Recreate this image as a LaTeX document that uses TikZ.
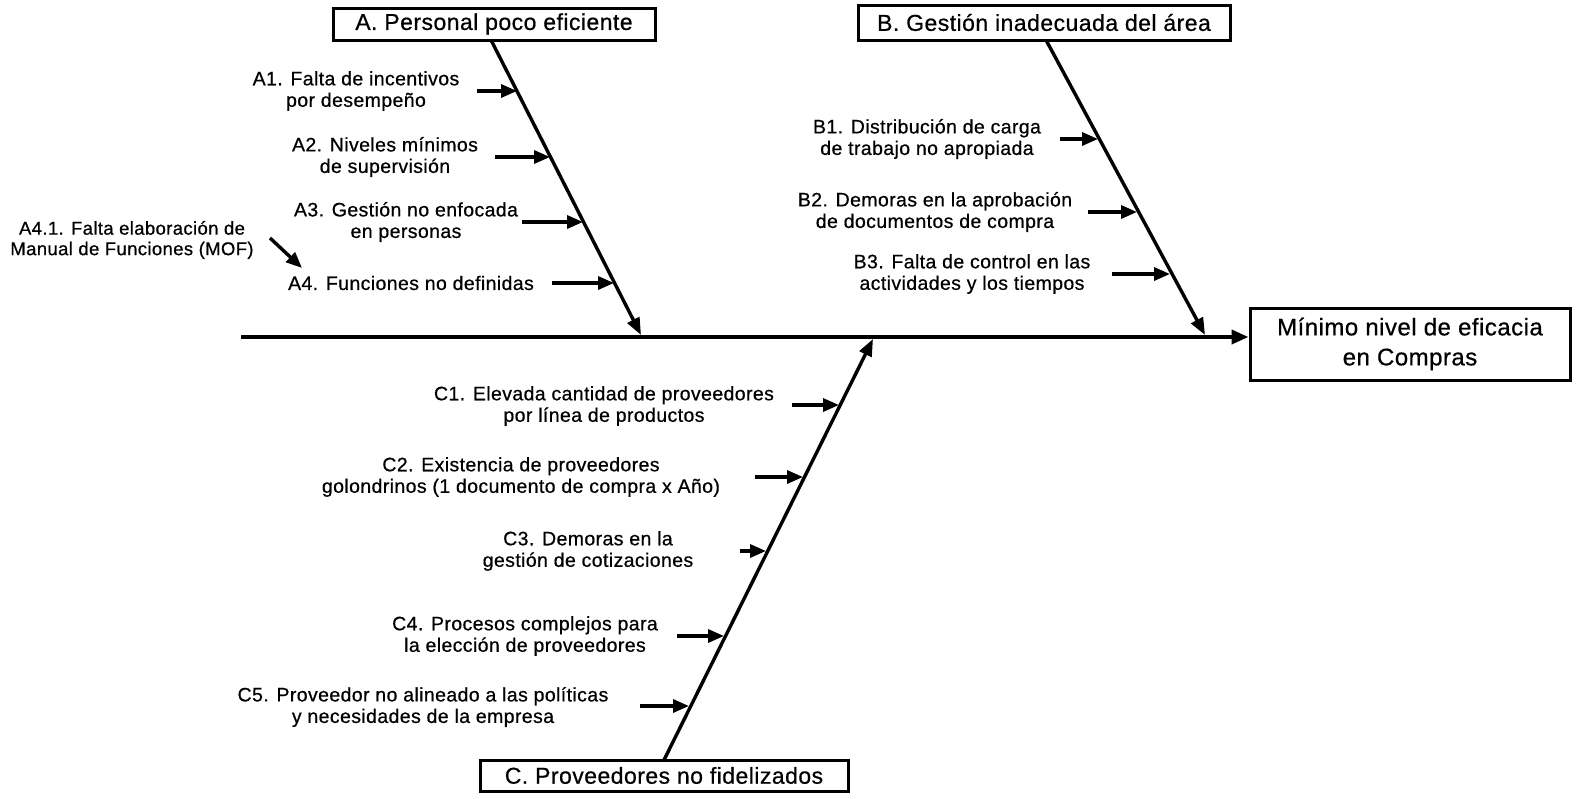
\documentclass[tikz,border=0pt]{standalone}
\usepackage{fontspec}
\setmainfont{Liberation Sans}[LetterSpace=2, FakeBold=0.6]
\usetikzlibrary{arrows.meta}
\begin{document}
\begin{tikzpicture}[x=1pt,y=-1pt,
  catbox/.style={draw, line width=3pt, inner sep=0pt, align=center,
    font=\fontsize{23}{25}\selectfont},
  effbox/.style={draw, line width=3pt, inner sep=0pt, align=center,
    minimum width=320pt, minimum height=72pt,
    font=\fontsize{24}{30}\selectfont},
  lbl/.style={inner sep=0pt, align=center, font=\fontsize{19.5}{21.5}\selectfont},
  smalllbl/.style={inner sep=0pt, align=center, font=\fontsize{18.5}{20.5}\selectfont},
  spine/.style={line width=3.8pt, -{Triangle[length=17pt,width=14pt]}},
  bone/.style={line width=3.4pt, -{Triangle[length=17pt,width=13pt]}},
  cause/.style={line width=3.4pt, -{Triangle[length=16pt,width=13pt]}}]
\useasboundingbox (0,0) rectangle (1577,798);

% category boxes and effect
\node[catbox, minimum width=322pt, minimum height=32pt] (boxA) at (494,24) {A. Personal poco eficiente};
\node[catbox, minimum width=372pt, minimum height=35pt] (boxB) at (1044,22.5) {B. Gestión inadecuada del área};
\node[catbox, minimum width=368pt, minimum height=31pt] (boxC) at (664,775.5) {C. Proveedores no fidelizados};
\node[effbox] (eff) at (1410,344) {Mínimo nivel de eficacia\\en Compras};

% main spine
\coordinate (sp0) at (241,337);
\draw[spine] (sp0) -- (sp0 -| eff.west);

% main bones
\coordinate (bA) at (491,40);
\coordinate (tA) at (641,335);
\coordinate (bB) at (1046,40);
\coordinate (tB) at (1205,335);
\coordinate (bC) at (664,760);
\coordinate (tC) at (873,339);
\draw[bone] (bA) -- (tA);
\draw[bone] (bB) -- (tB);
\draw[bone] (bC) -- (tC);

% causes of A
\node[lbl] (a1) at (356,91) {A1. Falta de incentivos\\por desempeño};
\node[lbl] (a2) at (385,157) {A2. Niveles mínimos\\de supervisión};
\node[lbl] (a3) at (406,222) {A3. Gestión no enfocada\\en personas};
\node[lbl] (a4) at (411,283) {A4. Funciones no definidas};
\node[smalllbl] (a41) at (132,240) {A4.1. Falta elaboración de\\Manual de Funciones (MOF)};
\coordinate (a1s) at (477,91);  \coordinate (a1e) at (517,91);
\coordinate (a2s) at (495,157); \coordinate (a2e) at (550,157);
\coordinate (a3s) at (522,222); \coordinate (a3e) at (583,222);
\coordinate (a4s) at (552,283); \coordinate (a4e) at (614,283);
\coordinate (a41s) at (270,238); \coordinate (a41e) at (302,268);
\draw[cause] (a1s) -- (a1e);
\draw[cause] (a2s) -- (a2e);
\draw[cause] (a3s) -- (a3e);
\draw[cause] (a4s) -- (a4e);
\draw[cause] (a41s) -- (a41e);

% causes of B
\node[lbl] (b1) at (927,139) {B1. Distribución de carga\\de trabajo no apropiada};
\node[lbl] (b2) at (935,212) {B2. Demoras en la aprobación\\de documentos de compra};
\node[lbl] (b3) at (972,274) {B3. Falta de control en las\\actividades y los tiempos};
\coordinate (b1s) at (1060,139); \coordinate (b1e) at (1098,139);
\coordinate (b2s) at (1088,212); \coordinate (b2e) at (1137,212);
\coordinate (b3s) at (1112,274); \coordinate (b3e) at (1170,274);
\draw[cause] (b1s) -- (b1e);
\draw[cause] (b2s) -- (b2e);
\draw[cause] (b3s) -- (b3e);

% causes of C
\node[lbl] (c1) at (604,406) {C1. Elevada cantidad de proveedores\\por línea de productos};
\node[lbl] (c2) at (521,477) {C2. Existencia de proveedores\\golondrinos (1 documento de compra x Año)};
\node[lbl] (c3) at (588,551) {C3. Demoras en la\\gestión de cotizaciones};
\node[lbl] (c4) at (525,636) {C4. Procesos complejos para\\la elección de proveedores};
\node[lbl] (c5) at (423,707) {C5. Proveedor no alineado a las políticas\\y necesidades de la empresa};
\coordinate (c1s) at (792,405); \coordinate (c1e) at (839,405);
\coordinate (c2s) at (755,477); \coordinate (c2e) at (803,477);
\coordinate (c3s) at (740,551); \coordinate (c3e) at (766,551);
\coordinate (c4s) at (677,636); \coordinate (c4e) at (724,636);
\coordinate (c5s) at (640,706); \coordinate (c5e) at (689,706);
\draw[cause] (c1s) -- (c1e);
\draw[cause] (c2s) -- (c2e);
\draw[cause] (c3s) -- (c3e);
\draw[cause] (c4s) -- (c4e);
\draw[cause] (c5s) -- (c5e);
\end{tikzpicture}
\end{document}
